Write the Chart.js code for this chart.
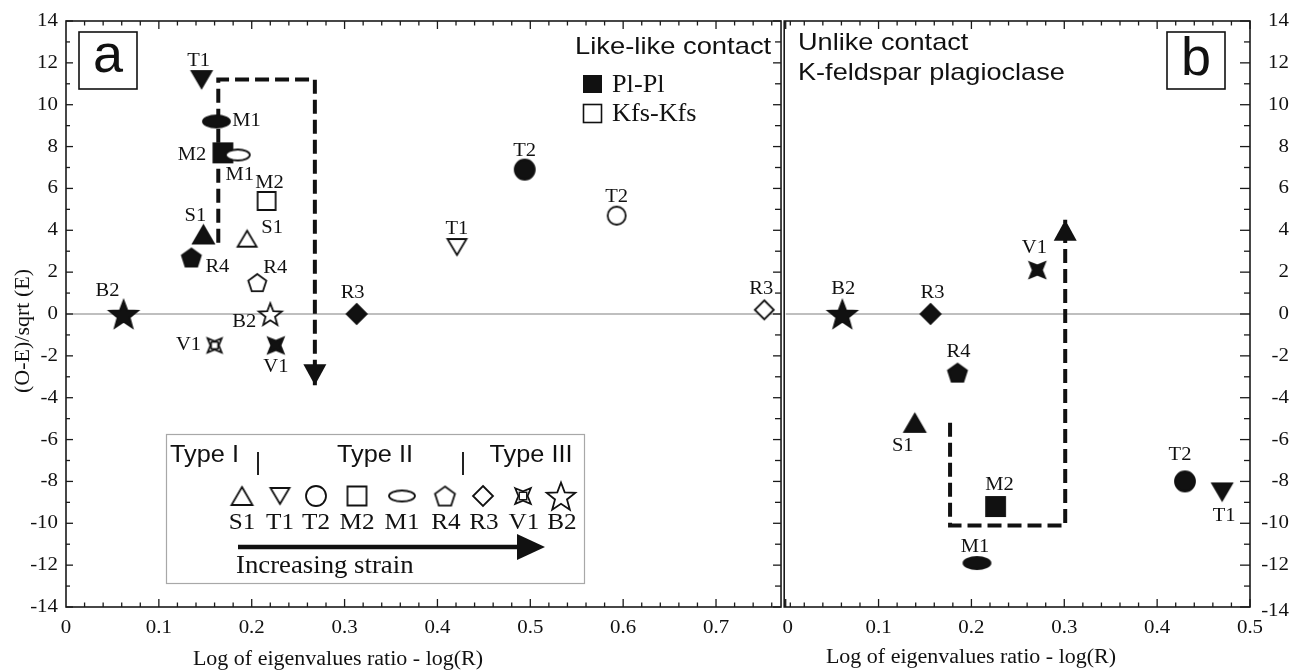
<!DOCTYPE html>
<html><head><meta charset="utf-8">
<script src="https://cdn.jsdelivr.net/npm/chart.js@4/dist/chart.umd.min.js"></script>
<style>html,body{margin:0;padding:0;background:#fff;}canvas{display:block}</style>
</head><body>
<canvas id="c" width="1291" height="670"></canvas>
<script>
// ---------------- DATA ----------------
const yTickLabels = [-14,-12,-10,-8,-6,-4,-2,0,2,4,6,8,10,12,14];
const xTickLabelsA = [0,0.1,0.2,0.3,0.4,0.5,0.6,0.7];
const xTickLabelsB = [0,0.1,0.2,0.3,0.4,0.5];
const legendOrder = ['S1','T1','T2','M2','M1','R4','R3','V1','B2'];

// Panel a, like-like contact, Pl-Pl (filled)
const samplesA_Pl = ['T1','M1','M2','S1','R4','B2','V1','R3','T2'];
const xA_Pl = [0.146,0.162,0.169,0.148,0.135,0.062,0.226,0.313,0.494];
const yA_Pl = [11.2,9.2,7.7,3.8,2.7,0,-1.5,0,6.9];
// Panel a, like-like contact, Kfs-Kfs (open)
const samplesA_Kfs = ['M1','M2','S1','R4','B2','V1','T1','T2','R3'];
const xA_Kfs = [0.185,0.216,0.195,0.206,0.220,0.160,0.421,0.593,0.752];
const yA_Kfs = [7.6,5.4,3.6,1.5,0,-1.5,3.2,4.7,0.2];
// Panel b, unlike contact K-feldspar plagioclase (filled)
const samplesB = ['B2','R3','V1','R4','S1','M2','M1','T2','T1'];
const xB = [0.061,0.156,0.271,0.185,0.139,0.226,0.206,0.430,0.470];
const yB = [0,0,2.1,-2.8,-5.2,-9.2,-11.9,-8.0,-8.5];
// dashed trend paths
const pathAx = [0.164,0.164,0.268,0.268];
const pathAy = [3.4,11.2,11.2,-3.4];
const pathBx = [0.177,0.177,0.301,0.301];
const pathBy = [-5.2,-10.1,-10.1,4.5];

// ---------------- STYLE / LAYOUT ----------------
const SANS = '"Liberation Sans", Arial, sans-serif';
const SERIF = '"Liberation Serif", "Times New Roman", serif';
const xMaxA = 0.77, xMaxB = 0.5;
const pxPerUnit = 928.6, areaW = 1184;
const labelOffsets = {
  aPl: {T1:[-3,-19],M1:[30,0],M2:[-31,2],S1:[-8,-18],R4:[26,10],B2:[-16,-23],V1:[0,22],R3:[-4,-21],T2:[0,-19]},
  aKfs:{M1:[2,20],M2:[3,-18],S1:[25,-11],R4:[18,-15],B2:[-26,8],V1:[-26,0],T1:[0,-18],T2:[0,-19],R3:[-3,-21]},
  b:   {B2:[1,-25],R3:[2,-21],V1:[-3,-22],R4:[1,-21],S1:[-12,23],M2:[4,-22],M1:[-2,-16],T2:[-5,-26],T1:[2,24]}
};
const shapeOf = {S1:'triUp',T1:'triDown',T2:'circle',M2:'square',M1:'ellipse',R4:'pentagon',R3:'diamond',V1:'star4',B2:'star5'};
const sizeFilled = {triUp:[21,18],triDown:[20,17],circle:[20,20],square:[19,19],ellipse:[27,12],pentagon:[20,20],diamond:[20,20],star4:[22,22],star5:[30,30]};
const sizeOpen   = {triUp:[19,16],triDown:[19,16],circle:[18,18],square:[18,18],ellipse:[24,11],pentagon:[19,19],diamond:[19,19],star4:[20,20],star5:[24,24]};
const sizeLegend = {triUp:[21,18],triDown:[19,16],circle:[20,20],square:[19,19],ellipse:[26,11],pentagon:[21,21],diamond:[20,20],star4:[22,22],star5:[30,30]};

function shapePath(g, shape, w, h){
  g.beginPath();
  if (shape==='triUp'){ g.moveTo(0,-h/2); g.lineTo(w/2,h/2); g.lineTo(-w/2,h/2); }
  else if (shape==='triDown'){ g.moveTo(-w/2,-h/2); g.lineTo(w/2,-h/2); g.lineTo(0,h/2); }
  else if (shape==='circle'){ g.arc(0,0,w/2,0,Math.PI*2); }
  else if (shape==='square'){ g.rect(-w/2,-h/2,w,h); }
  else if (shape==='ellipse'){ g.ellipse(0,0,w/2,h/2,0,0,Math.PI*2); }
  else if (shape==='pentagon'){ const r=w/2; for(let i=0;i<5;i++){const a=-Math.PI/2+i*2*Math.PI/5; const px=r*Math.cos(a), py=r*Math.sin(a)+r*0.1; i?g.lineTo(px,py):g.moveTo(px,py);} }
  else if (shape==='diamond'){ g.moveTo(0,-h/2); g.lineTo(w/2,0); g.lineTo(0,h/2); g.lineTo(-w/2,0); }
  else if (shape==='star5'){ const R=w/2, r=R*0.42; for(let i=0;i<10;i++){const a=-Math.PI/2+i*Math.PI/5; const rr=i%2?r:R; const px=rr*Math.cos(a), py=rr*Math.sin(a)+R*0.1; i?g.lineTo(px,py):g.moveTo(px,py);} }
  else if (shape==='star4'){ const R=w/2, r=R*0.42; for(let i=0;i<8;i++){const a=-Math.PI*3/4+i*Math.PI/4; const rr=i%2?r:R; const px=rr*Math.cos(a), py=rr*Math.sin(a); i?g.lineTo(px,py):g.moveTo(px,py);} }
  g.closePath();
}
function makeMarker(shape, filled, sz){
  const [w,h] = sz[shape];
  const c = document.createElement('canvas');
  c.width = Math.ceil(w+6); c.height = Math.ceil(h+6);
  const g = c.getContext('2d');
  g.translate(c.width/2, c.height/2);
  shapePath(g, shape, w, h);
  g.lineWidth = 1.8; g.lineJoin='miter'; g.strokeStyle = '#111'; g.fillStyle = filled ? '#111' : '#fff';
  g.fill(); g.stroke();
  if (shape==='star4' && !filled){ const s=w*0.17; g.lineWidth=1.4; g.strokeRect(-s,-s,2*s,2*s); }
  return c;
}
const markers = {filled:{}, open:{}, legend:{}};
legendOrder.forEach(s=>{
  const sh = shapeOf[s];
  markers.filled[s] = makeMarker(sh,true,sizeFilled);
  markers.open[s] = makeMarker(sh,false,sizeOpen);
  markers.legend[s] = makeMarker(sh,false,sizeLegend);
});

const pts = (xs,ys)=>xs.map((x,i)=>({x, y:ys[i]}));

function txt(ctx, s, x, y, font, align, sx, base){
  ctx.save(); ctx.translate(x,y); ctx.scale(sx||1,1);
  ctx.font = font; ctx.textAlign = align||'center'; ctx.textBaseline = base||'middle';
  ctx.fillStyle = '#111'; ctx.fillText(s,0,0); ctx.restore();
}
function seg(ctx,x1,y1,x2,y2){ ctx.beginPath(); ctx.moveTo(x1,y1); ctx.lineTo(x2,y2); ctx.stroke(); }
function arrowHead(ctx, x1,y1,x2,y2, len, half){
  const a = Math.atan2(y2-y1, x2-x1);
  ctx.save(); ctx.translate(x2,y2); ctx.rotate(a);
  ctx.beginPath(); ctx.moveTo(0,0); ctx.lineTo(-len,-half); ctx.lineTo(-len,half); ctx.closePath();
  ctx.fillStyle='#111'; ctx.fill(); ctx.restore();
}

const decor = {
  id:'decor',
  beforeDatasetsDraw(chart){
    const {ctx, scales:{xa, xb, y}} = chart;
    const y0 = y.getPixelForValue(0);
    ctx.save(); ctx.strokeStyle='#aaaaaa'; ctx.lineWidth=1.3;
    seg(ctx, xa.getPixelForValue(0), y0, xa.getPixelForValue(xMaxA), y0);
    seg(ctx, xb.getPixelForValue(0), y0, xb.getPixelForValue(xMaxB), y0);
    ctx.restore();
  },
  afterDatasetsDraw(chart){
    const {ctx, scales:{xa, xb, y}} = chart;
    const n = pathAx.length-1;
    arrowHead(ctx, xa.getPixelForValue(pathAx[n-1]), y.getPixelForValue(pathAy[n-1]), xa.getPixelForValue(pathAx[n]), y.getPixelForValue(pathAy[n]), 21, 11.5);
    const m = pathBx.length-1;
    arrowHead(ctx, xb.getPixelForValue(pathBx[m-1]), y.getPixelForValue(pathBy[m-1]), xb.getPixelForValue(pathBx[m]), y.getPixelForValue(pathBy[m]), 21, 11.5);
    const groups = [[2,samplesA_Pl,labelOffsets.aPl],[3,samplesA_Kfs,labelOffsets.aKfs],[4,samplesB,labelOffsets.b]];
    groups.forEach(([di,samples,offs])=>{
      const meta = chart.getDatasetMeta(di);
      meta.data.forEach((el,i)=>{
        const o = offs[samples[i]] || [0,-20];
        txt(ctx, samples[i], el.x+o[0], el.y+o[1], '19px '+SERIF, 'center', 1.08);
      });
    });
  },
  afterDraw(chart){
    const {ctx, scales:{xa, xb, y}} = chart;
    const top = y.getPixelForValue(14), bot = y.getPixelForValue(-14);
    const aL = xa.getPixelForValue(0), aR = xa.getPixelForValue(xMaxA);
    const bL = xb.getPixelForValue(0)-1.5, bR = xb.getPixelForValue(xMaxB);
    ctx.save();
    ctx.strokeStyle='#1a1a1a'; ctx.lineWidth=1.6;
    ctx.strokeRect(aL, top, aR-aL, bot-top);
    ctx.strokeRect(bL, top, bR-bL, bot-top);
    ctx.lineWidth=1.3;
    const xt = (sc, xmax, L)=>{
      for(let k=0;k<=Math.round(xmax/0.02);k++){
        const v=k*0.02, p=sc.getPixelForValue(v), len=(k%5===0)?8:4.5;
        if (p<L+1) continue;
        seg(ctx,p,bot,p,bot-len); seg(ctx,p,top,p,top+len);
      }
    };
    xt(xa, xMaxA, aL); xt(xb, xMaxB, bL);
    for(let v=-14; v<=14; v++){
      const p=y.getPixelForValue(v), major=(v%2===0);
      seg(ctx,aL,p,aL+(major?7:4),p);
      seg(ctx,aR,p,aR-(major?8:6),p);
      seg(ctx,bR,p,bR-(major?10:6),p);
    }
    ctx.restore();
    const tf = '19px '+SERIF;
    xTickLabelsA.forEach(v=>txt(ctx, v===0?'0':v.toFixed(1), xa.getPixelForValue(v), 628, tf, 'center', 1.1));
    xTickLabelsB.forEach(v=>txt(ctx, v===0?'0':v.toFixed(1), xb.getPixelForValue(v)+(v===0?2:0), 628, tf, 'center', 1.1));
    yTickLabels.forEach(v=>{
      const p=y.getPixelForValue(v);
      txt(ctx, String(v), 58, p, tf, 'right', 1.1);
      txt(ctx, String(v), 1289, p+(v===-14?4:0), tf, 'right', 1.1);
    });
    txt(ctx, 'Log of eigenvalues ratio - log(R)', 338, 660, '20px '+SERIF, 'center', 1.1);
    txt(ctx, 'Log of eigenvalues ratio - log(R)', 971, 658, '20px '+SERIF, 'center', 1.1);
    ctx.save(); ctx.translate(23, 331); ctx.rotate(-Math.PI/2);
    txt(ctx, '(O-E)/sqrt (E)', 0, 0, '22px '+SERIF, 'center', 1);
    ctx.restore();
    ctx.save(); ctx.strokeStyle='#111'; ctx.lineWidth=1.6;
    ctx.strokeRect(79,32,58,57); ctx.strokeRect(1167,32,58,57); ctx.restore();
    txt(ctx, 'a', 108, 57, '54px '+SANS, 'center', 1);
    txt(ctx, 'b', 1196, 60, '54px '+SANS, 'center', 1);
    txt(ctx, 'Like-like contact', 575, 47, '24px '+SANS, 'left', 1.14);
    ctx.save(); ctx.fillStyle='#111'; ctx.fillRect(583,75,19,18);
    ctx.strokeStyle='#111'; ctx.lineWidth=1.6; ctx.strokeRect(583.5,104.5,18,18); ctx.restore();
    txt(ctx, 'Pl-Pl', 612, 85, '25px '+SERIF, 'left', 1.05);
    txt(ctx, 'Kfs-Kfs', 612, 114, '25px '+SERIF, 'left', 1.05);
    txt(ctx, 'Unlike contact', 798, 43, '24px '+SANS, 'left', 1.13);
    txt(ctx, 'K-feldspar plagioclase', 798, 73, '24px '+SANS, 'left', 1.13);
    ctx.save(); ctx.fillStyle='#fff'; ctx.fillRect(166,434,418,149);
    ctx.strokeStyle='#a8a8a8'; ctx.lineWidth=1.2; ctx.strokeRect(166.5,434.5,418,149);
    ctx.strokeStyle='#222'; ctx.lineWidth=2; seg(ctx,258,452,258,475); seg(ctx,463,452,463,475);
    ctx.restore();
    txt(ctx, 'Type I', 170, 456, '23px '+SANS, 'left', 1.1);
    txt(ctx, 'Type II', 375, 456, '23px '+SANS, 'center', 1.1);
    txt(ctx, 'Type III', 531, 456, '23px '+SANS, 'center', 1.1);
    const lx = [242,280,316,357,402,445,483,523,561];
    legendOrder.forEach((s,i)=>{
      const mk = markers.legend[s];
      ctx.drawImage(mk, lx[i]-mk.width/2, 496-mk.height/2);
      txt(ctx, s, lx[i]+(i>=5?1:0), 523, '24px '+SERIF, 'center', 1.05);
    });
    ctx.save(); ctx.strokeStyle='#111'; ctx.lineWidth=4.5; seg(ctx,238,547,520,547); ctx.restore();
    arrowHead(ctx, 238,547,545,547, 28, 13);
    txt(ctx, 'Increasing strain', 236, 566, '25px '+SERIF, 'left', 1.07);
  }
};

new Chart(document.getElementById('c'), {
  type:'scatter',
  data:{ datasets:[
    {label:'pathA', xAxisID:'xa', data:pts(pathAx,pathAy), showLine:true, borderColor:'#111', borderWidth:4, borderDash:[14,6], pointRadius:0, fill:false, order:3, clip:false},
    {label:'pathB', xAxisID:'xb', data:pts(pathBx,pathBy), showLine:true, borderColor:'#111', borderWidth:4, borderDash:[14,6], pointRadius:0, fill:false, order:3, clip:false},
    {label:'Pl-Pl', xAxisID:'xa', data:pts(xA_Pl,yA_Pl), pointStyle:samplesA_Pl.map(s=>markers.filled[s]), pointRadius:10, order:1, clip:false},
    {label:'Kfs-Kfs', xAxisID:'xa', data:pts(xA_Kfs,yA_Kfs), pointStyle:samplesA_Kfs.map(s=>markers.open[s]), pointRadius:10, order:0, clip:false},
    {label:'Kfs-Pl', xAxisID:'xb', data:pts(xB,yB), pointStyle:samplesB.map(s=>markers.filled[s]), pointRadius:10, order:1, clip:false}
  ]},
  options:{
    responsive:false, animation:false, devicePixelRatio:1,
    layout:{padding:{left:66, right:41, top:21, bottom:63}},
    plugins:{legend:{display:false}, tooltip:{enabled:false}},
    scales:{
      xa:{type:'linear', position:'bottom', min:0, max:areaW/pxPerUnit, display:false},
      xb:{type:'linear', position:'bottom', min:xMaxB-areaW/pxPerUnit, max:xMaxB, display:false},
      y:{type:'linear', min:-14, max:14, display:false}
    }
  },
  plugins:[decor]
});
</script>
</body></html>
